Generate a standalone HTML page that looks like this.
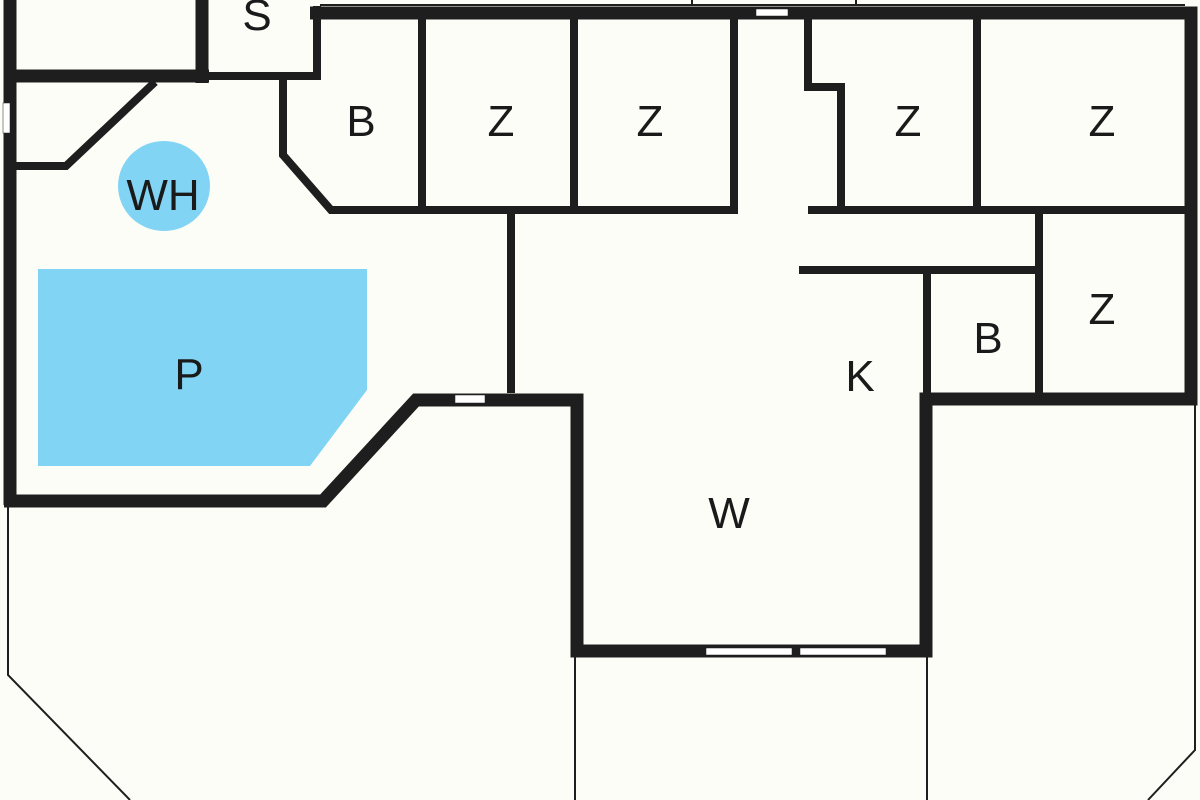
<!DOCTYPE html>
<html><head><meta charset="utf-8"><style>html,body{margin:0;padding:0;background:#fdfdf8}svg{display:block}text{font-family:"Liberation Sans",sans-serif;font-size:44px;fill:#1a1a1a;text-anchor:middle}</style></head>
<body>
<svg width="1200" height="800" viewBox="0 0 1200 800" xmlns="http://www.w3.org/2000/svg">
<rect width="1200" height="800" fill="#fdfdf8"/>
<!-- pool & WH -->
<polygon points="38,269 367,269 367,390 310,466 38,466" fill="#82d4f5"/>
<ellipse cx="164" cy="186" rx="46" ry="45" fill="#82d4f5"/>
<g stroke="#1e1e1e" fill="none">
<!-- thin lines -->
<g stroke-width="2">
<polyline points="8,505 8,675 130,800"/>
<polyline points="1195,400 1195,750 1148,800"/>
<line x1="575" y1="655" x2="575" y2="800"/>
<line x1="927" y1="655" x2="927" y2="800"/>
<line x1="320" y1="5" x2="1185" y2="5"/>
<line x1="692" y1="0" x2="692" y2="6"/>
<line x1="856" y1="0" x2="856" y2="6"/>
</g>
<!-- thick outer walls -->
<g stroke-width="13" stroke-linejoin="miter">
<line x1="10" y1="0" x2="10" y2="505"/>
<polyline points="4,501 323,501 416,400 577,400 577,651 926,651 926,399 1191,399 1191,13 310,13"/>
<line x1="202" y1="0" x2="202" y2="83"/>
<line x1="15" y1="76" x2="209" y2="76"/>
</g>
<g stroke-width="8">
<polyline points="209,76 317,76 317,6"/>
<polyline points="155,82 66,166 15,166"/>
<polyline points="283,80 283,155 331,210 737,210"/>
<line x1="422" y1="16" x2="422" y2="210"/>
<line x1="574" y1="16" x2="574" y2="210"/>
<line x1="734" y1="16" x2="734" y2="214"/>
<line x1="511" y1="210" x2="511" y2="393"/>
<polyline points="808,16 808,87 841,87 841,210"/>
<line x1="808" y1="210" x2="1188" y2="210"/>
<line x1="977" y1="16" x2="977" y2="210"/>
<line x1="1039" y1="210" x2="1039" y2="393"/>
<line x1="799" y1="270" x2="1039" y2="270"/>
<line x1="927" y1="270" x2="927" y2="393"/>
</g>
</g>
<!-- windows -->
<g fill="#fff" stroke="#1e1e1e" stroke-width="0.5">
<rect x="756" y="9" width="32" height="7"/>
<rect x="3" y="103" width="7" height="30"/>
<rect x="455" y="395" width="30" height="8"/>
<rect x="706" y="648" width="86" height="7"/>
<rect x="800" y="648" width="86" height="7"/>
</g>
<text x="257" y="30">S</text>
<text x="361" y="136">B</text>
<text x="501" y="136">Z</text>
<text x="650" y="136">Z</text>
<text x="908" y="136">Z</text>
<text x="1102" y="136">Z</text>
<text x="163" y="210">WH</text>
<text x="189" y="389">P</text>
<text x="988" y="353">B</text>
<text x="1102" y="324">Z</text>
<text x="860" y="391">K</text>
<text x="729" y="528">W</text>
</svg>
</body></html>
